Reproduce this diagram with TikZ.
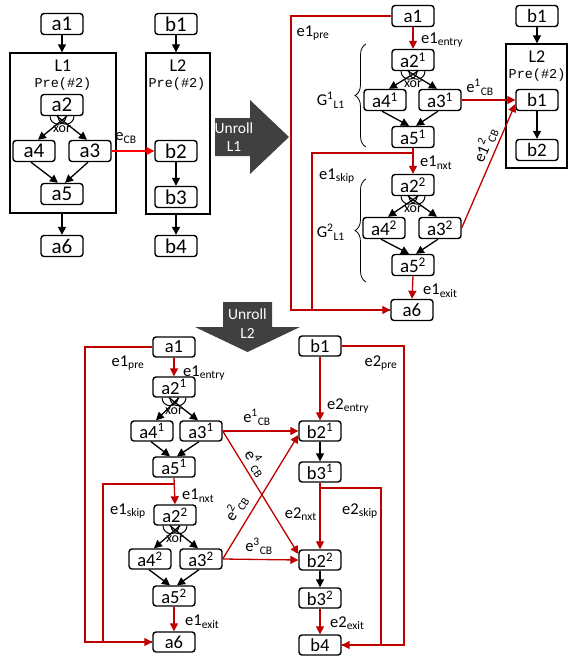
\documentclass[tikz,border=0pt]{standalone}
\usepackage{fontspec}
\setmainfont{Carlito}
\newfontfamily\codefont{Liberation Mono}
\usetikzlibrary{arrows.meta,decorations.pathreplacing}
\definecolor{ered}{HTML}{C00000}
\definecolor{bred}{HTML}{FF0000}
\definecolor{ugray}{HTML}{404040}
\newcommand\fs[1]{\fontsize{#1}{#1}\selectfont}
\newcommand\xorarcs[1]{%
  \draw[line width=1pt] ([xshift=-12pt]#1.south) arc[start angle=180,end angle=360,radius=8pt];
  \draw[line width=1pt] ([xshift=-4pt]#1.south) arc[start angle=180,end angle=360,radius=8pt];}
\tikzset{
  box/.style={draw, rounded corners=3pt, line width=1.4pt, fill=white, minimum height=21pt, minimum width=42pt, inner sep=1pt},
  tlbox/.style={box, font=\fs{21}},
  trbox/.style={box, font=\fs{19}},
  bbox/.style={box, font=\fs{18.5}, minimum height=20pt},
  loopbox/.style={draw, line width=1.4pt, inner sep=0pt},
  blarr/.style={line width=1.3pt, -{Triangle[length=8pt,width=8pt]}},
  rarr/.style={blarr, draw=ered},
  rline/.style={line width=1.4pt, draw=ered},
  lbl/.style={font=\fs{16.5}, inner sep=0pt},
  xorl/.style={font=\fs{14}, inner sep=0pt},
  brc/.style={decorate, decoration={brace, amplitude=11pt}, line width=0.8pt},
  utext/.style={font=\fs{15.5}, text=white, inner sep=0pt},
  looplbl/.style={font=\fs{18}, inner sep=0pt},
  codelbl/.style={font=\codefont\fs{13.5}, inner sep=0pt}
}
\begin{document}
\begin{tikzpicture}[x=1pt,y=-1pt]
\useasboundingbox (0,0) rectangle (568,659);
\fill[white] (0,0) rectangle (568,659);

% ================= top-left =================
\node[loopbox, minimum width=106pt, minimum height=160pt] (L1) at (63,133) {};
\node[looplbl] (L1t) at (63,66) {L1};
\node[codelbl] (L1p) at (63,84) {Pre(\#2)};
\node[tlbox] (tla1) at (62,24) {a1};
\node[tlbox] (tla2) at (62,105) {a2};
\node[tlbox] (tla4) at (34,151) {a4};
\node[tlbox] (tla3) at (90,151) {a3};
\node[tlbox] (tla5) at (62,194) {a5};
\node[tlbox] (tla6) at (62,246) {a6};
\xorarcs{tla2}
\node[xorl] (tlx) at (62,129) {xor};
\draw[blarr] (tla1.south) -- (tla1.south |- L1.north);
\draw[blarr] (tla6.north |- L1.south) -- (tla6.north);
\draw[blarr] ([xshift=5pt]tla2.south) -- ([xshift=4pt]tla4.north);
\draw[blarr] ([xshift=-5pt]tla2.south) -- ([xshift=-3pt]tla3.north);
\draw[blarr] ([xshift=-3pt]tla4.south) -- ([xshift=-4pt]tla5.north);
\draw[blarr] ([xshift=-2pt]tla3.south) -- ([xshift=3pt]tla5.north);

\node[loopbox, minimum width=64pt, minimum height=161pt] (L2) at (178,133.5) {};
\node[looplbl] (L2t) at (178,66) {L2};
\node[codelbl] (L2p) at (177,84) {Pre(\#2)};
\node[tlbox] (tlb1) at (176,24) {b1};
\node[tlbox] (tlb2) at (176,151) {b2};
\node[tlbox] (tlb3) at (176,197) {b3};
\node[tlbox] (tlb4) at (176,246) {b4};
\draw[blarr] (tlb1.south) -- (tlb1.south |- L2.north);
\draw[blarr] (tlb4.north |- L2.south) -- (tlb4.north);
\draw[blarr] (tlb2.south) -- (tlb3.north);
\draw[blarr, draw=bred] (tla3.east) -- (tlb2.west);
\node[lbl] (tlecb) at (126,138) {e\textsubscript{CB}};

% Unroll L1 arrow
\fill[ugray] (215,118) -- (250,118) -- (250,100) -- (289,137) -- (250,174) -- (250,156) -- (215,156) -- cycle;
\node[utext] (u1a) at (234,128) {Unroll};
\node[utext] (u1b) at (234,147) {L1};

% ================= top-right =================
\node[loopbox, minimum width=61pt, minimum height=124pt] (L2r) at (536.5,106) {};
\node[looplbl] (L2rt) at (537,57) {L2};
\node[codelbl] (L2rp) at (537,75) {Pre(\#2)};
\node[trbox] (trb1) at (537,16) {b1};
\node[trbox] (trb1in) at (537,100) {b1};
\node[trbox] (trb2in) at (537,150) {b2};
\draw[blarr] (trb1.south) -- (trb1.south |- L2r.north);
\draw[blarr] (trb1in.south) -- (trb2in.north);

\node[trbox] (tra1) at (413,16) {a1};
\node[trbox] (tra2a) at (413,60) {a2\textsuperscript{1}};
\node[trbox] (tra4a) at (385,100) {a4\textsuperscript{1}};
\node[trbox] (tra3a) at (440,100) {a3\textsuperscript{1}};
\node[trbox] (tra5a) at (413,137) {a5\textsuperscript{1}};
\node[trbox] (tra2b) at (413,185) {a2\textsuperscript{2}};
\node[trbox] (tra4b) at (384,228) {a4\textsuperscript{2}};
\node[trbox] (tra3b) at (440,228) {a3\textsuperscript{2}};
\node[trbox] (tra5b) at (413,265) {a5\textsuperscript{2}};
\node[trbox] (tra6) at (412,310) {a6};
\xorarcs{tra2a}
\xorarcs{tra2b}
\node[xorl] (trxa) at (413,84) {xor};
\node[xorl] (trxb) at (413,209) {xor};
\foreach \t/\l/\r/\b in {tra2a/tra4a/tra3a/tra5a, tra2b/tra4b/tra3b/tra5b}{
  \draw[blarr] ([xshift=5pt]\t.south) -- ([xshift=4pt]\l.north);
  \draw[blarr] ([xshift=-5pt]\t.south) -- ([xshift=-3pt]\r.north);
  \draw[blarr] ([xshift=-3pt]\l.south) -- ([xshift=-4pt]\b.north);
  \draw[blarr] ([xshift=-2pt]\r.south) -- ([xshift=3pt]\b.north);
}
\draw[rarr] (tra1.south) -- (tra2a.north);
\draw[rarr] (tra5a.south) -- (tra2b.north);
\draw[rarr] (tra5b.south) -- (tra6.north);
\draw[rarr] (tra1.west) -- (291,16) |- (tra6.west);
\coordinate (trj) at (413,153);
\draw[rline] (trj) -- (312,153) |- (tra6.west);
\draw[rarr] (tra3a.east) -- (trb1in.west);
\draw[rarr] (tra3b.east) -- ([yshift=-4pt]trb1in.west);
\node[lbl, anchor=west] (tre1) at (421,40) {e1\textsubscript{entry}};
\node[lbl, anchor=west] (tre2) at (420,163) {e1\textsubscript{nxt}};
\node[lbl, anchor=west] (tre3) at (423,291) {e1\textsubscript{exit}};
\node[lbl] (tre4) at (313,33) {e1\textsubscript{pre}};
\node[lbl] (tre5) at (337,176) {e1\textsubscript{skip}};
\node[lbl] (tre6) at (480,87) {e\textsuperscript{1}\textsubscript{CB}};
\node[lbl, rotate=67] (tre7) at (485,145) {e1\textsuperscript{2}\textsubscript{CB}};
\draw[brc] (366,147) -- (366,44);
\draw[brc] (366,282) -- (366,179);
\node[lbl, anchor=east] (trg1) at (345,100) {G\textsuperscript{1}\textsubscript{L1}};
\node[lbl, anchor=east] (trg2) at (345,232) {G\textsuperscript{2}\textsubscript{L1}};

% Unroll L2 arrow
\fill[ugray] (223,302) -- (272,302) -- (272,327) -- (300,327) -- (247.5,352) -- (195,327) -- (223,327) -- cycle;
\node[utext] (u2a) at (247.5,314) {Unroll};
\node[utext] (u2b) at (247.5,333) {L2};

% ================= bottom =================
\node[bbox] (ba1) at (174,347) {a1};
\node[bbox] (ba2a) at (174,387) {a2\textsuperscript{1}};
\node[bbox] (ba4a) at (152,431) {a4\textsuperscript{1}};
\node[bbox] (ba3a) at (201,431) {a3\textsuperscript{1}};
\node[bbox] (ba5a) at (174,467) {a5\textsuperscript{1}};
\node[bbox] (ba2b) at (175,515) {a2\textsuperscript{2}};
\node[bbox] (ba4b) at (150,559) {a4\textsuperscript{2}};
\node[bbox] (ba3b) at (201,559) {a3\textsuperscript{2}};
\node[bbox] (ba5b) at (174,596) {a5\textsuperscript{2}};
\node[bbox] (ba6) at (174,642) {a6};
\xorarcs{ba2a}
\xorarcs{ba2b}
\node[xorl] (bxa) at (174,411) {xor};
\node[xorl] (bxb) at (175,539) {xor};
\foreach \t/\l/\r/\b in {ba2a/ba4a/ba3a/ba5a, ba2b/ba4b/ba3b/ba5b}{
  \draw[blarr] ([xshift=5pt]\t.south) -- ([xshift=4pt]\l.north);
  \draw[blarr] ([xshift=-5pt]\t.south) -- ([xshift=-3pt]\r.north);
  \draw[blarr] ([xshift=-1pt]\l.south) -- ([xshift=-4pt]\b.north);
  \draw[blarr] ([xshift=-2pt]\r.south) -- ([xshift=3pt]\b.north);
}
\draw[rarr] (ba1.south) -- (ba2a.north);
\draw[rarr] (ba5a.south) -- (ba2b.north);
\draw[rarr] (ba5b.south) -- (ba6.north);
\draw[rarr] (ba1.west) -- (85,347) |- (ba6.west);
\coordinate (bj) at (175,484);
\draw[rline] (bj) -- (103,484) |- (ba6.west);

\node[bbox] (bb1) at (320,346) {b1};
\node[bbox] (bb2a) at (320,431) {b2\textsuperscript{1}};
\node[bbox] (bb3a) at (320,472) {b3\textsuperscript{1}};
\node[bbox] (bb2b) at (320,560) {b2\textsuperscript{2}};
\node[bbox] (bb3b) at (320,598) {b3\textsuperscript{2}};
\node[bbox] (bb4) at (320,645) {b4};
\draw[blarr] (bb2a.south) -- (bb3a.north);
\draw[blarr] (bb2b.south) -- (bb3b.north);
\draw[rarr] (bb1.south) -- (bb2a.north);
\draw[rarr] (bb3a.south) -- (bb2b.north);
\draw[rarr] (bb3b.south) -- (bb4.north);
\draw[rarr] (bb1.east) -- (404,346) |- (bb4.east);
\coordinate (bk) at (320,488);
\draw[rline] (bk) -- (381,488) |- (bb4.east);

% cross edges
\draw[rarr] (ba3a.east) -- (bb2a.west);
\draw[rarr] (ba3a.east) -- ([yshift=6pt]bb2b.west);
\draw[rarr] (ba3b.east) -- ([yshift=-4pt]bb2a.west);
\draw[rarr] (ba3b.east) -- (bb2b.west);

\node[lbl] (bl1) at (128,363) {e1\textsubscript{pre}};
\node[lbl, anchor=west] (bl2) at (183,373) {e1\textsubscript{entry}};
\node[lbl, anchor=west] (bl3) at (182,496) {e1\textsubscript{nxt}};
\node[lbl] (bl4) at (128,511) {e1\textsubscript{skip}};
\node[lbl, anchor=west] (bl5) at (185,622) {e1\textsubscript{exit}};
\node[lbl] (bl6) at (381,363) {e2\textsubscript{pre}};
\node[lbl, anchor=west] (bl7) at (327,406) {e2\textsubscript{entry}};
\node[lbl, anchor=east] (bl8) at (317,514) {e2\textsubscript{nxt}};
\node[lbl] (bl9) at (360,511) {e2\textsubscript{skip}};
\node[lbl, anchor=west] (bl10) at (330,623) {e2\textsubscript{exit}};
\node[lbl] (bl11) at (257,417) {e\textsuperscript{1}\textsubscript{CB}};
\node[lbl, rotate=-57] (bl12) at (256,463) {e\textsuperscript{4}\textsubscript{CB}};
\node[lbl, rotate=58] (bl13) at (236,508) {e\textsuperscript{2}\textsubscript{CB}};
\node[lbl] (bl14) at (259,546) {e\textsuperscript{3}\textsubscript{CB}};
\end{tikzpicture}
\end{document}
